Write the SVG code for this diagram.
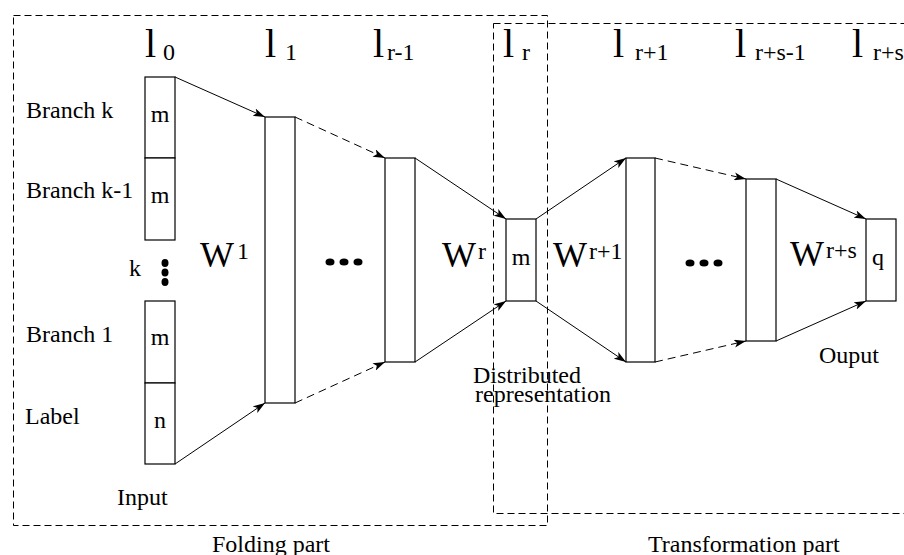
<svg xmlns="http://www.w3.org/2000/svg" width="904" height="555" viewBox="0 0 904 555" font-family="'Liberation Serif', 'Times New Roman', Times, serif">
<defs>
<marker id="ah" viewBox="0 0 12 8" refX="12" refY="4" markerWidth="12" markerHeight="8" markerUnits="userSpaceOnUse" orient="auto">
<path d="M0,0 L12,4 L0,8 L3,4 z" fill="#000"/>
</marker>
<style>
text{font-family:'Liberation Serif','Times New Roman',Times,serif;fill:#000}
.t{font-size:24px}
.big{font-size:40px}
.w{font-size:36px}
.box{fill:#fff;stroke:#000;stroke-width:1.2}
.frame{fill:none;stroke:#000;stroke-width:1;stroke-dasharray:7,4}
.c{fill:none;stroke:#000;stroke-width:1;marker-end:url(#ah)}
.d{stroke-dasharray:8,5}
</style>
</defs>
<rect width="904" height="555" fill="#fff"/>
<g id="frames">
<rect class="frame" x="13.5" y="15.5" width="534" height="510"/>
<rect class="frame" x="493.5" y="23.5" width="420" height="490"/>
</g>
<g id="connectors">
<line class="c" x1="175" y1="77" x2="265" y2="117"/>
<line class="c" x1="175" y1="464" x2="265" y2="403"/>
<line class="c d" x1="295" y1="117" x2="385" y2="158"/>
<line class="c d" x1="295" y1="403" x2="385" y2="362"/>
<line class="c" x1="415" y1="158" x2="506" y2="219"/>
<line class="c" x1="415" y1="362" x2="506" y2="301"/>
<line class="c" x1="536" y1="219" x2="626" y2="158"/>
<line class="c" x1="536" y1="301" x2="626" y2="362"/>
<line class="c d" x1="655" y1="158" x2="746" y2="179"/>
<line class="c d" x1="655" y1="362" x2="746" y2="341"/>
<line class="c" x1="776" y1="179" x2="866" y2="219"/>
<line class="c" x1="776" y1="341" x2="866" y2="301"/>
</g>
<g id="input">
<rect class="box" x="145" y="77" width="30" height="81"/>
<rect class="box" x="145" y="158" width="30" height="82"/>
<rect class="box" x="145" y="301" width="30" height="82"/>
<rect class="box" x="145" y="383" width="30" height="81"/>
<text class="t" x="160" y="122" text-anchor="middle">m</text>
<text class="t" x="160" y="203" text-anchor="middle">m</text>
<text class="t" x="160" y="345" text-anchor="middle">m</text>
<text class="t" x="160" y="428" text-anchor="middle">n</text>
<ellipse cx="165" cy="263" rx="3.5" ry="4"/>
<ellipse cx="165" cy="272.5" rx="3.5" ry="4"/>
<ellipse cx="165" cy="282" rx="3.5" ry="4"/>
<text class="t" x="129" y="276">k</text>
<text class="t" x="26" y="118">Branch k</text>
<text class="t" x="26" y="198">Branch k-1</text>
<text class="t" x="26" y="342">Branch 1</text>
<text class="t" x="25" y="424">Label</text>
<text class="t" x="117" y="505">Input</text>
</g>
<g id="layer1">
<rect class="box" x="265" y="117" width="30" height="286"/>
</g>
<g id="layer-r-1">
<rect class="box" x="385" y="158" width="30" height="204"/>
</g>
<g id="layer-r">
<rect class="box" x="506" y="219" width="30" height="82"/>
<text class="t" x="521" y="265" text-anchor="middle">m</text>
</g>
<g id="layer-r+1">
<rect class="box" x="626" y="158" width="29" height="204"/>
</g>
<g id="layer-r+s-1">
<rect class="box" x="746" y="179" width="30" height="162"/>
</g>
<g id="layer-r+s">
<rect class="box" x="866" y="219" width="30" height="82"/>
<text class="t" x="878" y="265" text-anchor="middle">q</text>
<text class="t" x="819" y="363">Ouput</text>
</g>
<g id="weights">
<text class="w" x="200" y="267">W</text><text class="t" x="237" y="259">1</text>
<text class="w" x="442" y="267">W</text><text class="t" x="478" y="259">r</text>
<text class="w" x="553" y="267">W</text><text class="t" x="589" y="259">r+1</text>
<text class="w" x="790" y="266">W</text><text class="t" x="826" y="258">r+s</text>
<ellipse cx="330" cy="262" rx="4.5" ry="3.5"/>
<ellipse cx="344" cy="262" rx="4.5" ry="3.5"/>
<ellipse cx="358" cy="262" rx="4.5" ry="3.5"/>
<ellipse cx="690" cy="263" rx="4.5" ry="3.5"/>
<ellipse cx="704" cy="263" rx="4.5" ry="3.5"/>
<ellipse cx="718" cy="263" rx="4.5" ry="3.5"/>
</g>
<g id="layer-labels">
<text class="big" x="145" y="57">l</text><text class="t" x="163" y="60">0</text>
<text class="big" x="265" y="57">l</text><text class="t" x="285" y="60">1</text>
<text class="big" x="373" y="57">l</text><text class="t" x="387" y="60">r-1</text>
<text class="big" x="503" y="57">l</text><text class="t" x="522" y="60">r</text>
<text class="big" x="613" y="57">l</text><text class="t" x="635" y="60">r+1</text>
<text class="big" x="735" y="57">l</text><text class="t" x="755" y="60">r+s-1</text>
<text class="big" x="852" y="57">l</text><text class="t" x="873" y="60">r+s</text>
</g>
<g id="captions">
<text class="t" x="473" y="383">Distributed</text>
<text class="t" x="475" y="402">representation</text>
<text class="t" x="212" y="552">Folding part</text>
<text class="t" x="648" y="552">Transformation part</text>
</g>
</svg>
